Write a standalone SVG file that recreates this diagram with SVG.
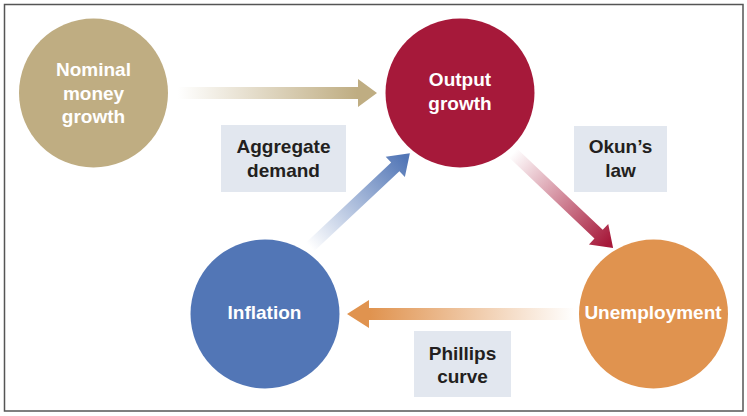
<svg xmlns="http://www.w3.org/2000/svg" width="747" height="416" viewBox="0 0 747 416">
<style>
.node-label{font-family:"Liberation Sans",Arial,sans-serif;font-weight:bold;font-size:19px;fill:#ffffff;text-anchor:middle}
.box-label{font-family:"Liberation Sans",Arial,sans-serif;font-weight:bold;font-size:19px;fill:#231f20;text-anchor:middle}
.box{fill:#e2e7ef}
</style>
<defs>
<linearGradient id="gGold" x1="0" y1="0" x2="1" y2="0">
<stop offset="0" stop-color="#bfad82" stop-opacity="0"/>
<stop offset="0.9" stop-color="#bfad82" stop-opacity="1"/>
</linearGradient>
<linearGradient id="gRed" x1="0" y1="0" x2="1" y2="0">
<stop offset="0" stop-color="#a6193a" stop-opacity="0"/>
<stop offset="0.95" stop-color="#a6193a" stop-opacity="1"/>
</linearGradient>
<linearGradient id="gBlue" x1="0" y1="0" x2="1" y2="0">
<stop offset="0" stop-color="#5276b6" stop-opacity="0"/>
<stop offset="0.95" stop-color="#5276b6" stop-opacity="1"/>
</linearGradient>
<linearGradient id="gOrange" x1="0" y1="0" x2="1" y2="0">
<stop offset="0" stop-color="#e0934f" stop-opacity="0"/>
<stop offset="0.9" stop-color="#e0934f" stop-opacity="1"/>
</linearGradient>
</defs>
<rect x="0" y="0" width="747" height="416" fill="#ffffff"/>
<rect x="4.5" y="4.5" width="738.5" height="406.5" fill="none" stroke="#555555" stroke-width="1.5"/>

<g id="connectors">
<polygon transform="translate(178,93)" fill="url(#gGold)" points="0,-6 180,-6 180,-14 199,0 180,14 180,6 0,6"/>
<polygon transform="translate(513,153) rotate(43.5)" fill="url(#gRed)" points="0,-6 118,-6 118,-14 138,0 118,14 118,6 0,6"/>
<polygon transform="translate(310,247) rotate(-43.2)" fill="url(#gBlue)" points="0,-6 117,-6 117,-14 137,0 117,14 117,6 0,6"/>
<polygon transform="translate(575,314) rotate(180)" fill="url(#gOrange)" points="0,-6 206,-6 206,-14 228,0 206,14 206,6 0,6"/>
</g>

<g id="label-aggregate-demand">
<rect class="box" x="221" y="125" width="125" height="67"/>
<text class="box-label" x="283.5" y="153">Aggregate</text>
<text class="box-label" x="283.5" y="177">demand</text>
</g>
<g id="label-okuns-law">
<rect class="box" x="574" y="126" width="93" height="66"/>
<text class="box-label" x="620.5" y="153">Okun’s</text>
<text class="box-label" x="620.5" y="177">law</text>
</g>
<g id="label-phillips-curve">
<rect class="box" x="414" y="331" width="97" height="66"/>
<text class="box-label" x="462.5" y="360">Phillips</text>
<text class="box-label" x="462.5" y="383">curve</text>
</g>

<g id="node-nominal-money-growth">
<circle cx="93.5" cy="93" r="74.5" fill="#bfad82"/>
<text class="node-label" x="93.5" y="76">Nominal</text>
<text class="node-label" x="93.5" y="100">money</text>
<text class="node-label" x="93.5" y="123">growth</text>
</g>
<g id="node-output-growth">
<circle cx="460" cy="93" r="74.5" fill="#a6193a"/>
<text class="node-label" x="460" y="86">Output</text>
<text class="node-label" x="460" y="110">growth</text>
</g>
<g id="node-unemployment">
<circle cx="653.5" cy="314" r="74.5" fill="#e0934f"/>
<text class="node-label" x="653" y="319">Unemployment</text>
</g>
<g id="node-inflation">
<circle cx="265" cy="314" r="74.5" fill="#5276b6"/>
<text class="node-label" x="264.5" y="319">Inflation</text>
</g>
</svg>
